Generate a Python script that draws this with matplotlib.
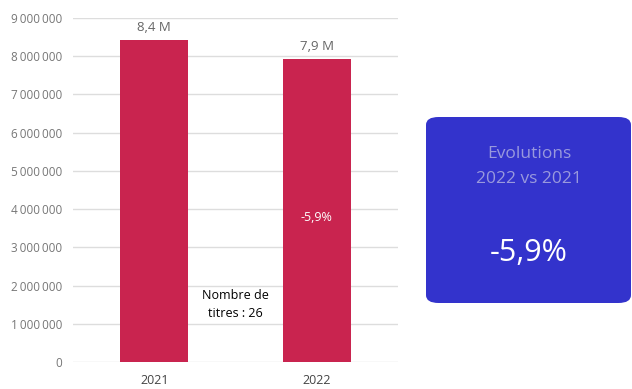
import matplotlib.pyplot as plt
from matplotlib.patches import FancyBboxPatch
from matplotlib.ticker import FuncFormatter

plt.rcParams['font.family'] = ['Open Sans', 'DejaVu Sans']

# données
years = ['2021', '2022']
values = [8_430_000, 7_930_000]
value_labels = ['8,4 M', '7,9 M']
evolution = '-5,9%'
nb_titres = 26
yticks = list(range(0, 9_000_001, 1_000_000))

bar_color = '#C9244F'
box_color = '#3333CC'

fig = plt.figure(figsize=(6.32, 3.89), dpi=100)
ax = fig.add_axes((73 / 632, 27 / 389, 325 / 632, 344 / 389))

x = list(range(len(years)))
ax.bar(x, values, width=0.42, color=bar_color, zorder=3)
ax.set_xlim(-0.5, 1.5)
ax.set_ylim(0, 9_000_000)
ax.set_yticks(yticks)
ax.yaxis.set_major_formatter(FuncFormatter(lambda v, p: f'{int(v):,}'.replace(',', '\u2009')))
ax.set_xticks(x)
ax.set_xticklabels(years)
ax.tick_params(axis='y', length=0, pad=8, labelsize=8.5, labelcolor='#777777')
ax.tick_params(axis='x', length=0, pad=9, labelsize=9, labelcolor='#444444')
ax.grid(axis='y', color='#dddddd', linewidth=1, zorder=0)
for s in ax.spines.values():
    s.set_visible(False)

# étiquettes des barres
for xi, v, lab in zip(x, values, value_labels):
    ax.annotate(lab, (xi, v), xytext=(0, 4), textcoords='offset points',
                ha='center', va='bottom', fontsize=9.5, color='#666666')

ax.text(x[1], 3_770_000, evolution, ha='center', va='center', fontsize=9, color='white', zorder=4)
ax.text(0.5, 1_500_000, f'Nombre de\ntitres : {nb_titres}', ha='center', va='center',
        fontsize=9, color='black', linespacing=1.5, zorder=4)

# encadré évolution
box = FancyBboxPatch((426 / 632, 86 / 389), 205 / 632, 186 / 389,
                     boxstyle='round,pad=0,rounding_size=0.02',
                     transform=fig.transFigure, facecolor=box_color, edgecolor='none')
fig.patches.append(box)
fig.text(529 / 632, 1 - 154 / 389, 'Evolutions', ha='center', va='center',
         fontsize=12.5, color='#9999DD')
fig.text(529 / 632, 1 - 179 / 389, '2022 vs 2021', ha='center', va='center',
         fontsize=12.5, color='#9999DD')
fig.text(529 / 632, 1 - 253 / 389, evolution, ha='center', va='center',
         fontsize=22, color='white', fontweight='medium')

fig.savefig('out.png', dpi=100)
